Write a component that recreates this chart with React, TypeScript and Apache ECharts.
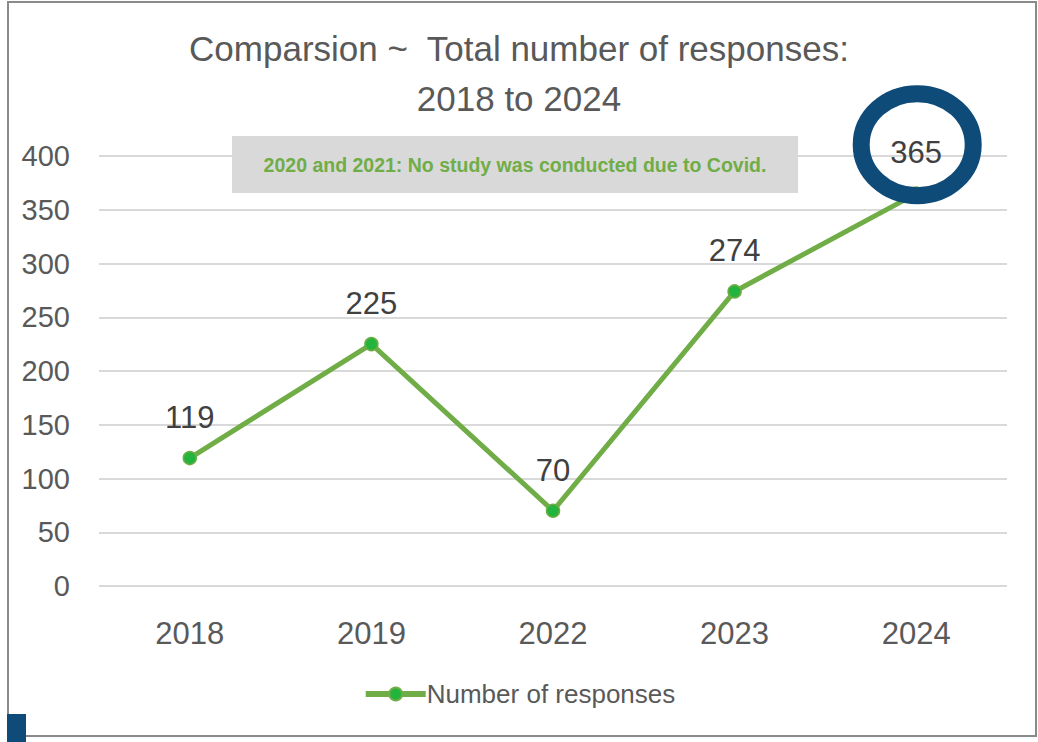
import React, { useEffect, useRef } from "react";
import * as echarts from "echarts";

const categories = ["2018", "2019", "2022", "2023", "2024"];
const responses = [119, 225, 70, 274, 365];
const seriesName = "Number of responses";
const titleText = "Comparsion ~  Total number of responses:\n2018 to 2024";
const noteText = "2020 and 2021: No study was conducted due to Covid.";
const yMin = 0;
const yMax = 400;
const yInterval = 50;

const FONT = "'Liberation Sans Narrow', 'Liberation Sans', Arial, sans-serif";

export default function App() {
  const ref = useRef<HTMLDivElement>(null);

  useEffect(() => {
    if (!ref.current) return;
    const chart = echarts.init(ref.current, undefined, { renderer: "svg" });
    const baseGraphics: any[] = [
      {
        type: "rect",
        shape: { x: 8, y: 2, width: 1028, height: 734 },
        style: { fill: "none", stroke: "#8a8a8a", lineWidth: 2 },
        z: 1,
      },
      {
        type: "rect",
        shape: { x: 7, y: 714, width: 19, height: 28 },
        style: { fill: "#0e4b79" },
        z: 2,
      },
      {
        type: "rect",
        shape: { x: 232, y: 136, width: 566, height: 57 },
        style: { fill: "#d9d9d9" },
        z: 5,
      },
      {
        type: "text",
        x: 515,
        y: 165,
        style: {
          text: noteText,
          fill: "#70ad47",
          font: `bold 19.5px ${FONT}`,
          align: "center",
          verticalAlign: "middle",
        },
        z: 6,
      },
    ];
    chart.setOption({
      animation: false,
      backgroundColor: "#ffffff",
      title: {
        text: titleText,
        left: "center",
        top: 18,
        textStyle: {
          fontFamily: FONT,
          fontSize: 35,
          fontWeight: "normal",
          color: "#595959",
          lineHeight: 50,
        },
      },
      legend: {
        data: [seriesName],
        left: "center",
        top: 676,
        itemWidth: 60,
        itemHeight: 16,
        itemGap: 10,
        lineStyle: { width: 6 },
        textStyle: { fontFamily: FONT, fontSize: 26, color: "#595959", padding: [0, 0, 0, -4] },
      },
      grid: { left: 99, right: 31, top: 156, bottom: 156 },
      xAxis: {
        type: "category",
        data: categories,
        axisLine: { show: false },
        axisTick: { show: false },
        axisLabel: { fontFamily: FONT, fontSize: 31, color: "#595959", margin: 32 },
      },
      yAxis: {
        type: "value",
        min: yMin,
        max: yMax,
        interval: yInterval,
        axisLine: { show: false },
        axisTick: { show: false },
        axisLabel: { fontFamily: FONT, fontSize: 29, color: "#595959", margin: 29 },
        splitLine: { lineStyle: { color: "#d9d9d9", width: 2 } },
      },
      series: [
        {
          name: seriesName,
          type: "line",
          data: responses,
          symbol: "circle",
          symbolSize: 13,
          lineStyle: { color: "#70ad47", width: 5 },
          itemStyle: { color: "#22b43c", borderColor: "#70ad47", borderWidth: 1.5 },
          label: {
            show: true,
            position: "top",
            distance: 18,
            fontFamily: FONT,
            fontSize: 31,
            color: "#404040",
          },
          z: 3,
        },
      ],
      graphic: baseGraphics,
    });
    const last = responses.length - 1;
    const pt = chart.convertToPixel({ xAxisIndex: 0, yAxisIndex: 0 }, [last, responses[last]]) as number[];
    chart.setOption({
      graphic: [
        ...baseGraphics,
        {
          type: "ellipse",
          shape: { cx: pt[0] + 1, cy: pt[1] - 49, rx: 56, ry: 51 },
          style: { fill: "none", stroke: "#0e4b79", lineWidth: 17 },
          z: 10,
        },
      ],
    });
    return () => chart.dispose();
  }, []);

  return (
    <div
      ref={ref}
      style={{ position: "absolute", left: 0, top: 0, width: 1038, height: 742 }}
    />
  );
}
